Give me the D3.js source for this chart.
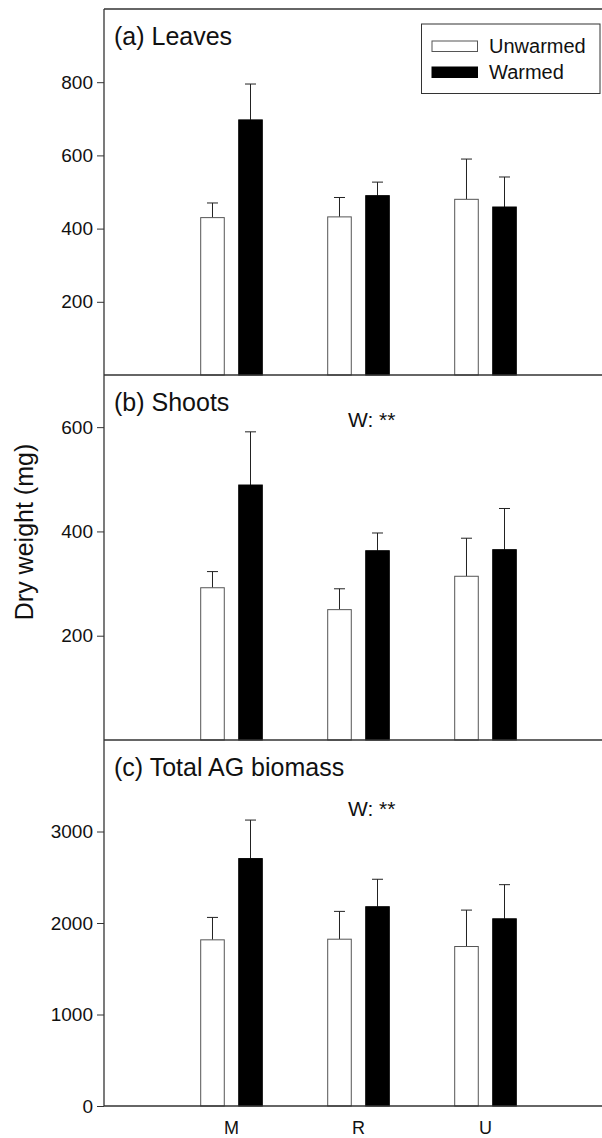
<!DOCTYPE html>
<html>
<head>
<meta charset="utf-8">
<script src="https://cdnjs.cloudflare.com/ajax/libs/d3/7.8.5/d3.min.js"></script>
<style>
  body { margin: 0; background: #fff; }
  svg text { font-family: "Liberation Sans", Arial, sans-serif; fill: #111; }
</style>
</head>
<body>
<div id="chart"></div>
<script>
// sites on the x axis
var categories = ["M", "R", "U"];
var seriesNames = ["Unwarmed", "Warmed"];

// (a) leaves, mg
var leavesUnwarmed = [430, 432, 480];
var leavesUnwarmedErr = [40, 53, 110];
var leavesWarmed = [697, 490, 459];
var leavesWarmedErr = [98, 37, 82];
var leavesTicks = [200, 400, 600, 800];

// (b) shoots, mg
var shootsUnwarmed = [292, 250, 314];
var shootsUnwarmedErr = [31, 40, 73];
var shootsWarmed = [489, 363, 365];
var shootsWarmedErr = [102, 34, 79];
var shootsTicks = [200, 400, 600];

// (c) total above-ground biomass, mg
var totalUnwarmed = [1816, 1823, 1743];
var totalUnwarmedErr = [245, 304, 398];
var totalWarmed = [2704, 2178, 2046];
var totalWarmedErr = [421, 300, 373];
var totalTicks = [0, 1000, 2000, 3000];

var width = 602, height = 1138;
var left = 104;

var panels = [
  { title: "(a) Leaves", top: 9, bottom: 375, max: 1000, ticks: leavesTicks,
    vals: [leavesUnwarmed, leavesWarmed], errs: [leavesUnwarmedErr, leavesWarmedErr], note: null },
  { title: "(b) Shoots", top: 375, bottom: 740, max: 700, ticks: shootsTicks,
    vals: [shootsUnwarmed, shootsWarmed], errs: [shootsUnwarmedErr, shootsWarmedErr], note: "W: **" },
  { title: "(c) Total AG biomass", top: 740, bottom: 1106, max: 4000, ticks: totalTicks,
    vals: [totalUnwarmed, totalWarmed], errs: [totalUnwarmedErr, totalWarmedErr], note: "W: **" }
];

var svg = d3.select("#chart").append("svg")
  .attr("width", width)
  .attr("height", height);

var x = d3.scaleBand()
  .domain(categories)
  .range([168, 549]);

var xSub = d3.scaleBand()
  .domain(seriesNames)
  .range([0, 61.6])
  .paddingInner(0.38);

var fills = { "Unwarmed": "#fff", "Warmed": "#000" };
var strokes = { "Unwarmed": "#555", "Warmed": "#000" };

panels.forEach(function(p, pi) {
  var y = d3.scaleLinear()
    .domain([0, p.max])
    .range([p.bottom, p.top]);

  var g = svg.append("g");

  // bars
  seriesNames.forEach(function(s, si) {
    var data = categories.map(function(c, i) {
      return { cat: c, v: p.vals[si][i], e: p.errs[si][i] };
    });
    var bx = function(d) { return x(d.cat) + (x.bandwidth() - 61.6) / 2 + xSub(s); };

    // error bars (upper only)
    g.selectAll(".err" + si)
      .data(data)
      .enter().append("line")
      .attr("x1", function(d) { return bx(d) + xSub.bandwidth() / 2; })
      .attr("x2", function(d) { return bx(d) + xSub.bandwidth() / 2; })
      .attr("y1", function(d) { return y(d.v); })
      .attr("y2", function(d) { return y(d.v + d.e); })
      .attr("stroke", "#222")
      .attr("stroke-width", 1);

    g.selectAll(".cap" + si)
      .data(data)
      .enter().append("line")
      .attr("x1", function(d) { return bx(d) + xSub.bandwidth() / 2 - 5.5; })
      .attr("x2", function(d) { return bx(d) + xSub.bandwidth() / 2 + 5.5; })
      .attr("y1", function(d) { return y(d.v + d.e); })
      .attr("y2", function(d) { return y(d.v + d.e); })
      .attr("stroke", "#222")
      .attr("stroke-width", 1);

    g.selectAll(".bar" + si)
      .data(data)
      .enter().append("rect")
      .attr("x", bx)
      .attr("y", function(d) { return y(d.v); })
      .attr("width", xSub.bandwidth())
      .attr("height", function(d) { return p.bottom - y(d.v); })
      .attr("fill", fills[s])
      .attr("stroke", strokes[s])
      .attr("stroke-width", 1);
  });

  // y axis
  var axis = g.append("g")
    .attr("transform", "translate(" + left + ",0)")
    .call(d3.axisLeft(y).tickValues(p.ticks).tickFormat(d3.format("d"))
      .tickSize(7).tickSizeOuter(0).tickPadding(4));
  axis.select(".domain").remove();
  axis.selectAll(".tick line").attr("stroke", "#333");
  axis.selectAll(".tick text")
    .attr("font-size", "19px")
    .attr("fill", "#111");

  // frame lines
  g.append("line")
    .attr("x1", left).attr("x2", width + 10)
    .attr("y1", p.bottom).attr("y2", p.bottom)
    .attr("stroke", "#333").attr("stroke-width", 1.3);
  if (pi == 0) {
    g.append("line")
      .attr("x1", left).attr("x2", width + 10)
      .attr("y1", p.top).attr("y2", p.top)
      .attr("stroke", "#333").attr("stroke-width", 1.3);
  }

  // panel title
  g.append("text")
    .attr("x", 114)
    .attr("y", p.top + 36)
    .attr("font-size", "25px")
    .text(p.title);

  if (p.note) {
    g.append("text")
      .attr("x", 348)
      .attr("y", p.top + (pi == 1 ? 52 : 76))
      .attr("font-size", "21px")
      .text(p.note);
  }
});

// left axis line through all panels
svg.append("line")
  .attr("x1", left).attr("x2", left)
  .attr("y1", 9).attr("y2", 1106)
  .attr("stroke", "#333").attr("stroke-width", 1.3);

// x labels
svg.selectAll(".xlab")
  .data(categories)
  .enter().append("text")
  .attr("x", function(d) { return x(d) + x.bandwidth() / 2; })
  .attr("y", 1134)
  .attr("text-anchor", "middle")
  .attr("font-size", "18px")
  .text(function(d) { return d; });

// y title
svg.append("text")
  .attr("transform", "translate(33,532)rotate(-90)")
  .attr("text-anchor", "middle")
  .attr("font-size", "25px")
  .text("Dry weight (mg)");

// legend
var legend = svg.append("g");
legend.append("rect")
  .attr("x", 421.5).attr("y", 24)
  .attr("width", 178.5).attr("height", 69.5)
  .attr("fill", "#fff")
  .attr("stroke", "#333").attr("stroke-width", 1);

var legendItems = legend.selectAll(".item")
  .data(seriesNames)
  .enter().append("g");

legendItems.append("rect")
  .attr("x", 432)
  .attr("y", function(d, i) { return 41 + i * 26; })
  .attr("width", 45.5)
  .attr("height", 10.5)
  .attr("fill", function(d) { return fills[d]; })
  .attr("stroke", function(d) { return strokes[d]; })
  .attr("stroke-width", 1);

legendItems.append("text")
  .attr("x", 489)
  .attr("y", function(d, i) { return 53 + i * 26; })
  .attr("font-size", "20px")
  .text(function(d) { return d; });
</script>
</body>
</html>
